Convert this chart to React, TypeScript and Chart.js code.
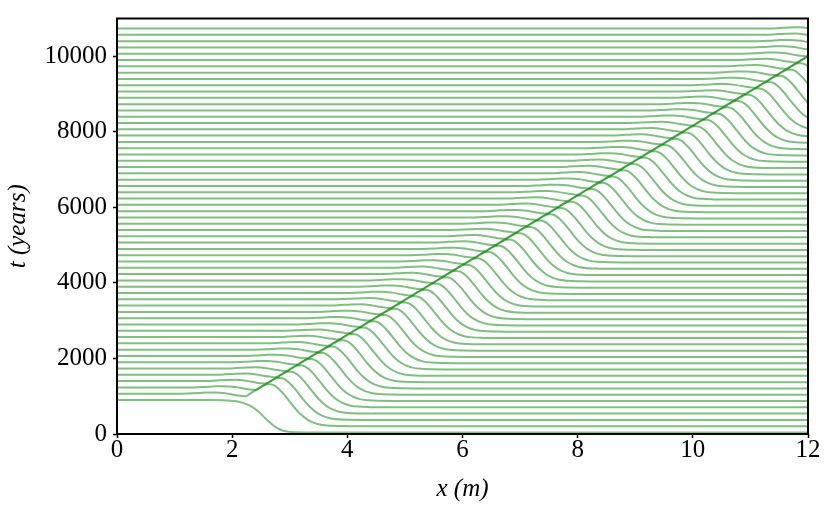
import React, { useEffect, useRef } from "react";
import { Chart, registerables } from "chart.js";

Chart.register(...registerables);

// Tick labels
const xTicks = [0, 2, 4, 6, 8, 10, 12];
const yTicks = [0, 2000, 4000, 6000, 8000, 10000];

// Vertical offset (level downstream of the front) of every profile
const lineOffsets = [
  40, 207, 373, 540, 707, 873, 1040, 1207, 1373, 1540,
  1707, 1873, 2040, 2207, 2373, 2540, 2707, 2873, 3040, 3207,
  3373, 3540, 3707, 3873, 4040, 4207, 4373, 4540, 4707, 4873,
  5040, 5207, 5373, 5540, 5707, 5873, 6040, 6207, 6373, 6540,
  6707, 6873, 7040, 7207, 7373, 7540, 7707, 7873, 8040, 8207,
  8373, 8540, 8707, 8873, 9040, 9207, 9373, 9540, 9707, 9873,
];

// Crest (front) position of every profile, in m
const frontPositions = [
  2.40, 2.58, 2.76, 2.94, 3.12, 3.30, 3.48, 3.66, 3.85, 4.03,
  4.21, 4.39, 4.57, 4.75, 4.93, 5.11, 5.29, 5.47, 5.65, 5.83,
  6.01, 6.19, 6.38, 6.56, 6.74, 6.92, 7.10, 7.28, 7.46, 7.64,
  7.82, 8.00, 8.18, 8.36, 8.54, 8.73, 8.91, 9.09, 9.27, 9.45,
  9.63, 9.81, 9.99, 10.17, 10.35, 10.53, 10.71, 10.89, 11.08, 11.26,
  11.44, 11.62, 11.80, 11.98, 12.16, 12.32, 12.46, 12.57, 12.65, 12.72,
];

// Shape of a travelling profile, relative to its crest and its offset
const profileDx = [-20, -1.5, -1.25, -1.05, -0.88, -0.7, -0.52, -0.4, -0.34, -0.28, -0.03, 0.02, 0.07, 0.14, 0.22, 0.32, 0.42, 0.52, 0.62, 0.72, 0.82, 0.92, 1.07, 1.27, 1.5, 20];
const profileDy = [860, 860, 872, 890, 893, 870, 820, 797, 795, 850, 1082, 1105, 1110, 1085, 1000, 840, 650, 460, 300, 180, 100, 50, 18, 4, 0, 0];

// Initial profile (t = 0)
const firstProfileX = [0, 1.6, 1.9, 2.1, 2.25, 2.35, 2.45, 2.6, 2.72, 2.83, 2.95, 3.1, 3.3, 3.6, 12];
const firstProfileY = [900, 900, 890, 860, 790, 710, 600, 380, 220, 120, 65, 45, 41, 40, 40];

const frame = {
  id: "frame",
  afterDraw(chart: any) {
    const { ctx, chartArea } = chart;
    ctx.save();
    ctx.strokeStyle = "#000";
    ctx.lineWidth = 2;
    ctx.strokeRect(chartArea.left, chartArea.top, chartArea.right - chartArea.left, chartArea.bottom - chartArea.top);
    ctx.restore();
  },
};

export default function App() {
  const ref = useRef<HTMLCanvasElement>(null);
  useEffect(() => {
    document.body.style.margin = "0";
    const datasets = lineOffsets.map((off, i) => {
      const pts =
        i === 0
          ? firstProfileX.map((x, k) => ({ x, y: firstProfileY[k] }))
          : profileDx.map((dx, k) => ({ x: frontPositions[i] + dx, y: off + profileDy[k] }));
      return {
        data: pts,
        borderColor: "rgba(0,128,0,0.5)",
        borderWidth: 2,
        pointRadius: 0,
        fill: false,
        cubicInterpolationMode: "monotone" as const,
        clip: 0,
      };
    });
    const tickFont = { family: "'Liberation Serif', serif", size: 25, lineHeight: 1.0 };
    const titleFont = { family: "'Liberation Serif', serif", size: 25, style: "italic" as const, lineHeight: 1.2 };
    const chart = new Chart(ref.current!, {
      type: "line",
      data: { datasets: datasets as any },
      plugins: [frame],
      options: {
        animation: false,
        responsive: false,
        devicePixelRatio: 1,
        layout: { padding: { left: 0, top: 14, right: 23, bottom: 0 } },
        plugins: { legend: { display: false }, tooltip: { enabled: false } },
        scales: {
          x: {
            type: "linear",
            min: 0,
            max: 12,
            afterFit: (s: any) => { s.height = 79; },
            afterBuildTicks: (s: any) => { s.ticks = xTicks.map((v) => ({ value: v })); },
            ticks: { font: tickFont, color: "#000", padding: 0, maxRotation: 0, callback: (v: any) => String(v) },
            grid: { display: true, drawOnChartArea: false, drawTicks: true, tickLength: 4, tickWidth: 1.5, tickColor: "#000" },
            border: { display: false },
            title: { display: true, text: "x (m)", font: titleFont, color: "#000", padding: { top: 0, bottom: 9 } },
          },
          y: {
            type: "linear",
            min: 0,
            max: 11000,
            afterFit: (s: any) => { s.width = 117; },
            afterBuildTicks: (s: any) => { s.ticks = yTicks.map((v) => ({ value: v })); },
            ticks: { font: tickFont, color: "#000", padding: 6, callback: (v: any) => String(v) },
            grid: { display: true, drawOnChartArea: false, drawTicks: true, tickLength: 4, tickWidth: 1.5, tickColor: "#000" },
            border: { display: false },
            title: { display: true, text: "t (years)", font: titleFont, color: "#000", padding: { top: 3, bottom: 0 } },
          },
        },
      },
    });
    return () => chart.destroy();
  }, []);
  return (
    <div style={{ width: 831, height: 513 }}>
      <canvas ref={ref} width={831} height={513} />
    </div>
  );
}
